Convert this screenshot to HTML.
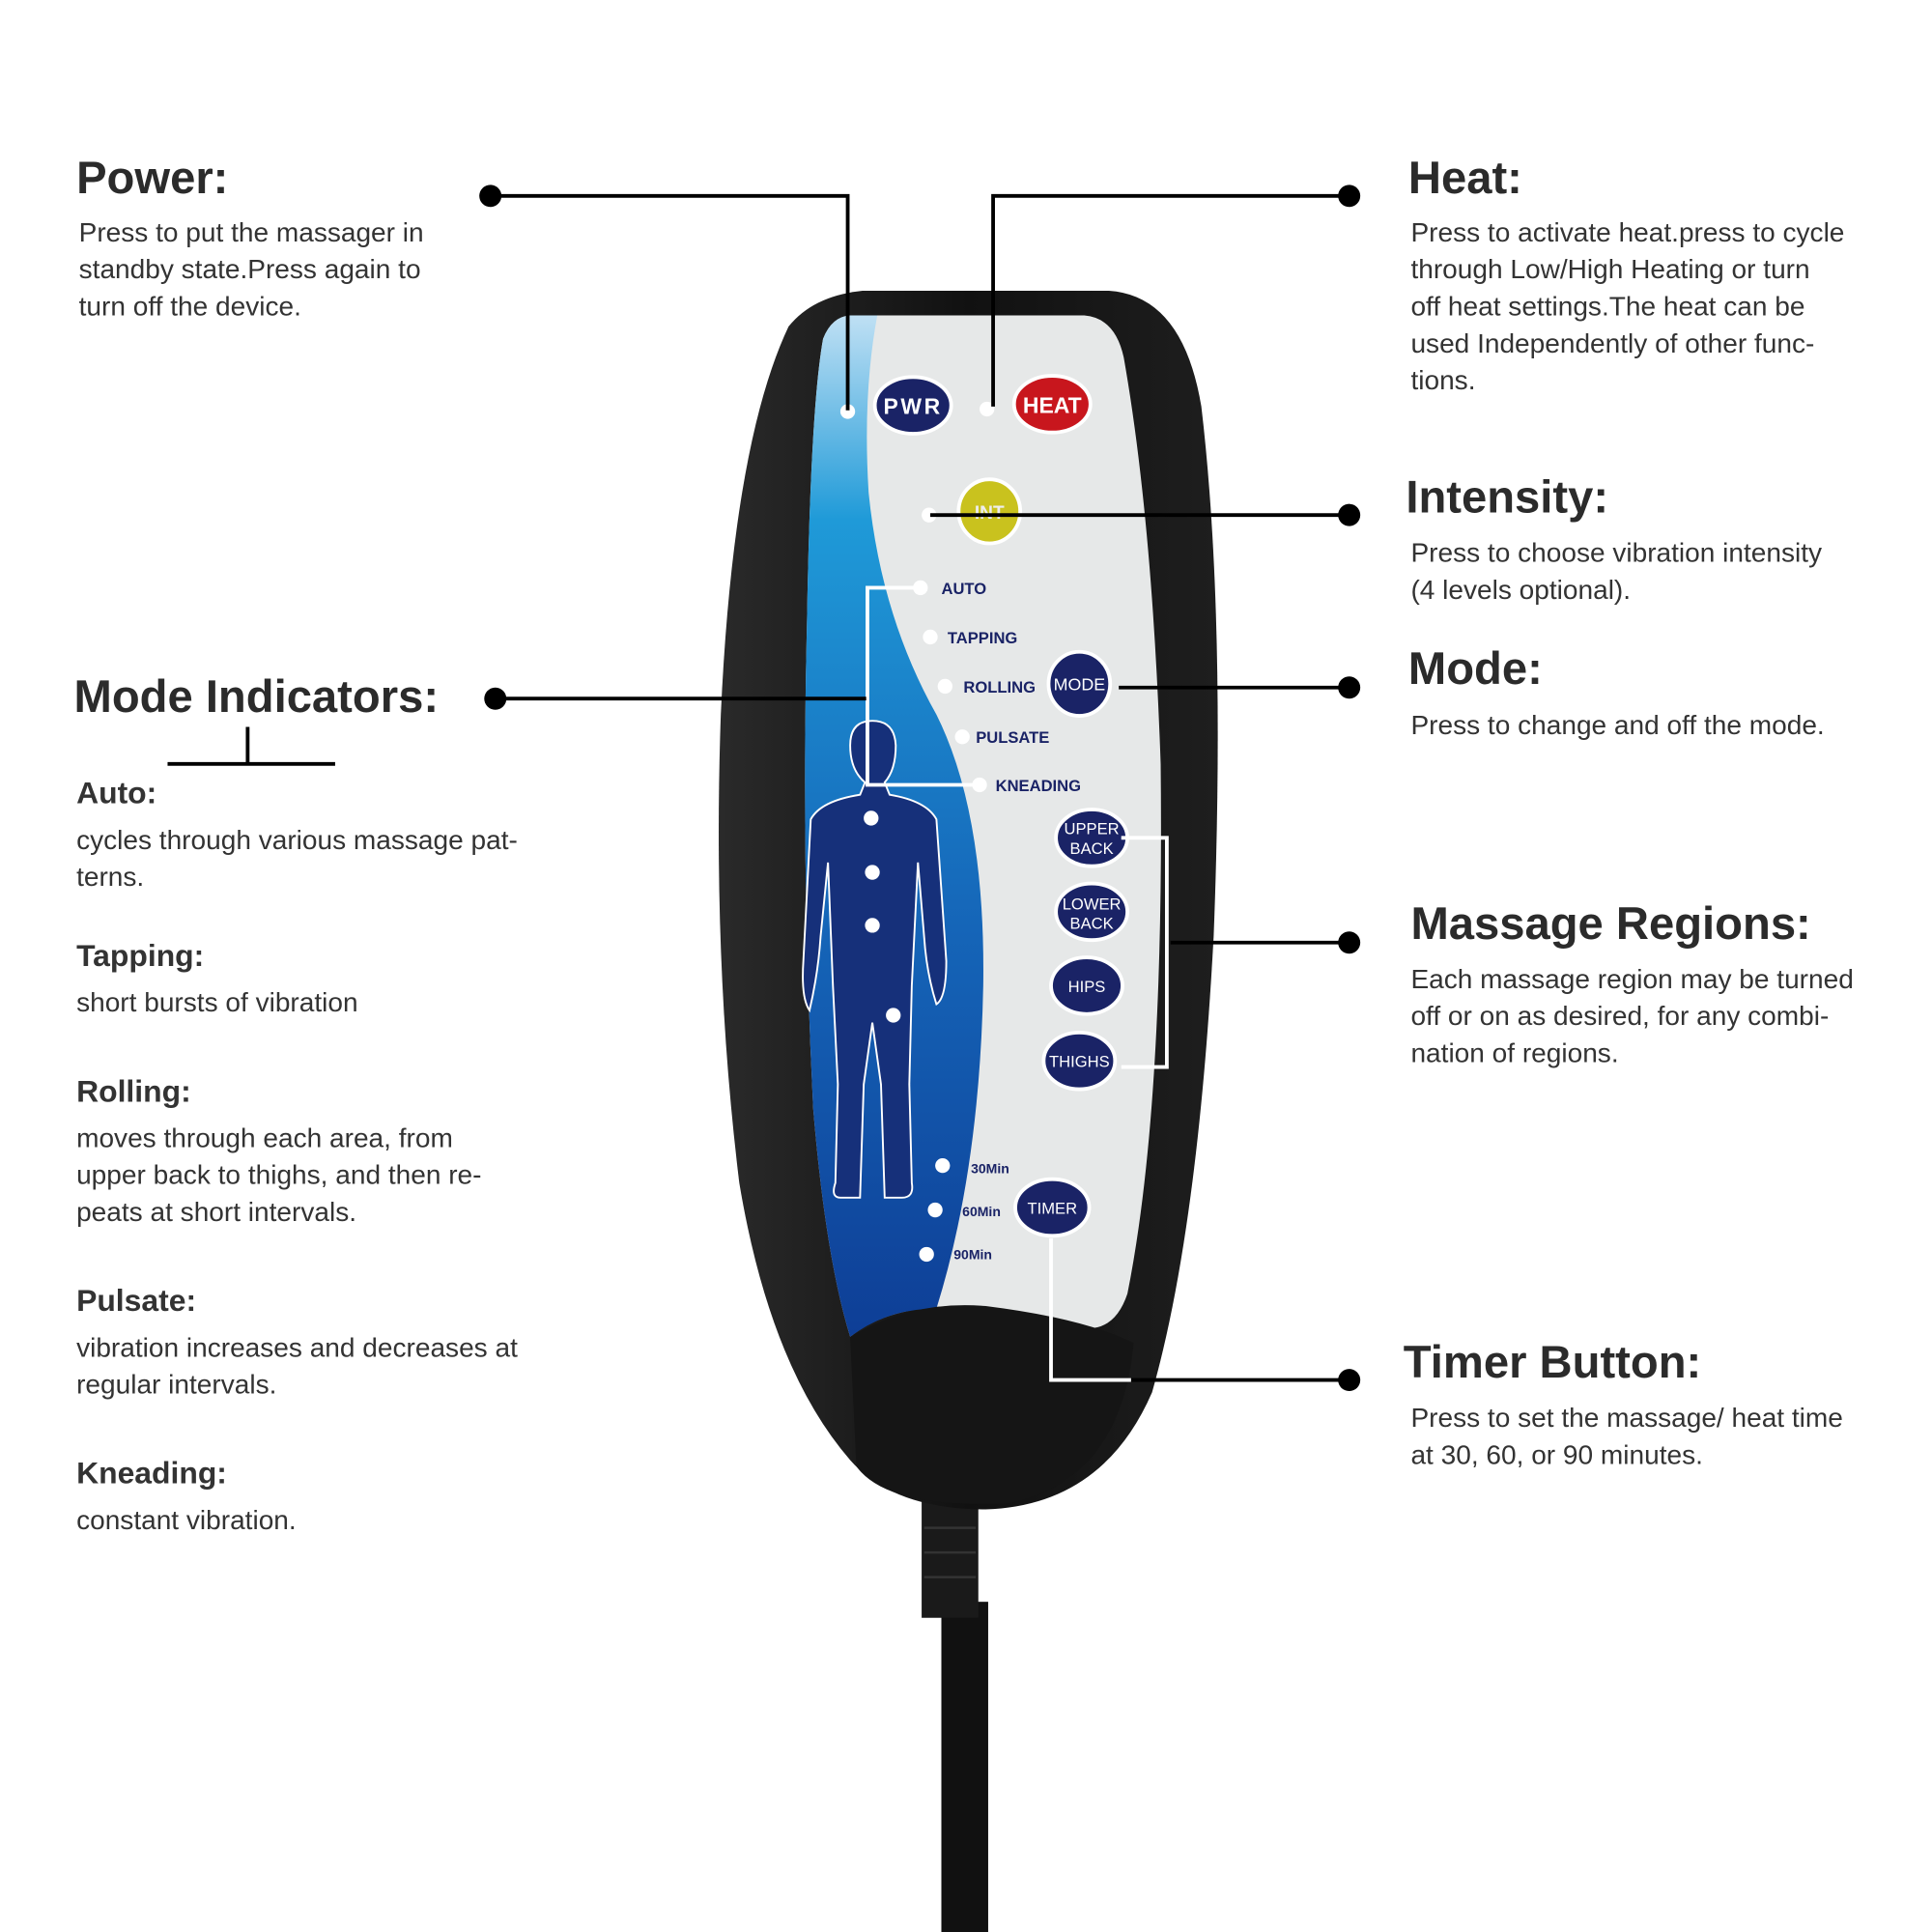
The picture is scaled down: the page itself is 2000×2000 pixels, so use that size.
<!DOCTYPE html>
<html><head><meta charset="utf-8"><style>html,body{margin:0;padding:0;background:#fff}svg{display:block}</style></head>
<body>
<svg width="2000" height="2000" viewBox="0 0 1568 1568" xmlns="http://www.w3.org/2000/svg" font-family="'Liberation Sans', sans-serif">
<defs>
<linearGradient id="bl" x1="0" y1="0" x2="0" y2="1">
<stop offset="0" stop-color="#bfe0f4"/><stop offset="0.2" stop-color="#1f9ad8"/><stop offset="0.6" stop-color="#1565b8"/><stop offset="1" stop-color="#0e3e96"/>
</linearGradient>
<linearGradient id="bk" x1="0" y1="0" x2="1" y2="0">
<stop offset="0" stop-color="#2a2a2a"/><stop offset="0.5" stop-color="#111"/><stop offset="1" stop-color="#1e1e1e"/>
</linearGradient>
</defs>
<rect x="764" y="1300" width="38" height="268" fill="#111"/>
<rect x="748" y="1215" width="46" height="98" fill="#1a1a1a"/>
<g stroke="#333" stroke-width="2"><line x1="750" y1="1240" x2="792" y2="1240"/><line x1="750" y1="1260" x2="792" y2="1260"/><line x1="750" y1="1280" x2="792" y2="1280"/></g>
<path d="M700 236 L900 236 Q960 240 975 330 Q995 500 985 760 Q972 1000 935 1130 Q895 1222 800 1225 Q725 1225 690 1185 Q625 1110 600 960 Q578 780 585 580 Q595 360 640 265 Q660 240 700 236 Z" fill="url(#bk)"/>
<path d="M690 256 L880 256 Q905 258 912 290 Q935 420 942 620 Q945 900 915 1050 Q905 1080 880 1078 L780 1060 Q720 1060 690 1085 Q670 1020 660 900 Q650 700 655 500 Q658 330 668 275 Q675 257 690 256 Z" fill="#e6e8e8"/>
<path d="M690 256 L712 256 Q700 320 705 400 Q715 500 760 580 Q800 660 798 800 Q795 950 760 1062 Q720 1062 690 1085 Q670 1020 660 900 Q650 700 655 500 Q658 330 668 275 Q675 257 690 256 Z" fill="url(#bl)"/>
<path d="M690 1085 Q740 1055 800 1060 Q880 1070 920 1090 Q910 1200 820 1220 Q720 1225 695 1190 Z" fill="#151515"/>
<g fill="#16307a" stroke="#fff" stroke-width="1.5">
<path d="M708 585 Q726 585 727 605 Q727 625 718 635 L722 645 Q752 650 760 665 L768 780 Q768 810 760 815 Q752 790 750 760 L745 700 L740 800 L738 880 L740 960 Q742 972 732 972 L718 972 L715 880 L708 830 L701 880 L698 972 L682 972 Q674 972 678 960 L680 880 L676 800 L672 700 L666 760 Q664 790 657 820 Q650 810 652 780 L658 665 Q666 650 698 645 L702 635 Q690 625 690 605 Q690 585 708 585 Z"/>
</g>
<g fill="#fff"><circle cx="707" cy="664" r="6"/><circle cx="708" cy="708" r="6"/><circle cx="708" cy="751" r="6"/><circle cx="725" cy="824" r="6"/></g>
<g fill="#fff"><circle cx="688" cy="334" r="6"/><circle cx="801" cy="332" r="6"/><circle cx="754" cy="418" r="6"/><circle cx="747" cy="477" r="6"/><circle cx="755" cy="517" r="6"/><circle cx="767" cy="557" r="6"/><circle cx="781" cy="598" r="6"/><circle cx="795" cy="637" r="6"/><circle cx="765" cy="946" r="6"/><circle cx="759" cy="982" r="6"/><circle cx="752" cy="1018" r="6"/></g>
<g fill="#1a2366" font-weight="bold" font-size="13">
<text x="764" y="482">AUTO</text><text x="769" y="522">TAPPING</text><text x="782" y="562">ROLLING</text><text x="792" y="603">PULSATE</text><text x="808" y="642">KNEADING</text>
<text x="788" y="952" font-size="11">30Min</text><text x="781" y="987" font-size="11">60Min</text><text x="774" y="1022" font-size="11">90Min</text>
</g>
<g stroke="#fff" stroke-width="3">
<ellipse cx="741" cy="329" rx="31" ry="23" fill="#1a2366"/>
<ellipse cx="854" cy="328" rx="31" ry="23" fill="#c8161d"/>
<ellipse cx="803" cy="415" rx="25" ry="26" fill="#c9c21e"/>
<ellipse cx="876" cy="555" rx="25" ry="26" fill="#1a2366"/>
<ellipse cx="886" cy="680" rx="29" ry="23" fill="#1a2366"/>
<ellipse cx="886" cy="740" rx="29" ry="23" fill="#1a2366"/>
<ellipse cx="882" cy="800" rx="29" ry="23" fill="#1a2366"/>
<ellipse cx="876" cy="861" rx="29" ry="23" fill="#1a2366"/>
<ellipse cx="854" cy="980" rx="30" ry="23" fill="#1a2366"/>
</g>
<g fill="#fff" text-anchor="middle" font-size="13">
<text x="741" y="336" font-size="18" font-weight="bold" letter-spacing="2">PWR</text>
<text x="854" y="335" font-size="18" font-weight="bold">HEAT</text>
<text x="803" y="421" font-size="15" fill="#eee" font-weight="bold">INT</text>
<text x="876" y="560" font-size="14">MODE</text>
<text x="886" y="677">UPPER</text><text x="886" y="693">BACK</text>
<text x="886" y="738">LOWER</text><text x="886" y="754">BACK</text>
<text x="882" y="805">HIPS</text><text x="876" y="866">THIGHS</text><text x="854" y="985">TIMER</text>
</g>
<g stroke="#fff" stroke-width="3" fill="none">
<path d="M745 477 H704 V637 H795"/>
<path d="M910 680 H947 V866 H910"/>
<path d="M853 1005 V1120 H918"/>
</g>
<g stroke="#000" stroke-width="3" fill="none">
<path d="M398 159 H688 V333"/>
<path d="M1095 159 H806 V330"/>
<path d="M755 418 H1095"/>
<path d="M908 558 H1095"/>
<path d="M402 567 H703"/>
<path d="M950 765 H1095"/>
<path d="M918 1120 H1095"/>
<path d="M136 620 H272 M201 590 V620"/>
</g>
<g fill="#000"><circle cx="398" cy="159" r="9"/><circle cx="1095" cy="159" r="9"/><circle cx="1095" cy="418" r="9"/><circle cx="1095" cy="558" r="9"/><circle cx="402" cy="567" r="9"/><circle cx="1095" cy="765" r="9"/><circle cx="1095" cy="1120" r="9"/></g>
<g fill="#333" font-size="22">
<text x="62" y="157" font-size="37" font-weight="bold" fill="#2b2b2b">Power:</text>
<text x="64" y="196">Press to put the massager in</text><text x="64" y="226">standby state.Press again to</text><text x="64" y="256">turn off the device.</text>
<text x="1143" y="157" font-size="37" font-weight="bold" fill="#2b2b2b">Heat:</text>
<text x="1145" y="196">Press to activate heat.press to cycle</text><text x="1145" y="226">through Low/High Heating or turn</text><text x="1145" y="256">off heat settings.The heat can be</text><text x="1145" y="286">used Independently of other func-</text><text x="1145" y="316">tions.</text>
<text x="1141" y="416" font-size="37" font-weight="bold" fill="#2b2b2b">Intensity:</text>
<text x="1145" y="456">Press to choose vibration intensity</text><text x="1145" y="486">(4 levels optional).</text>
<text x="1143" y="555" font-size="37" font-weight="bold" fill="#2b2b2b">Mode:</text>
<text x="1145" y="596">Press to change and off the mode.</text>
<text x="1145" y="762" font-size="37" font-weight="bold" fill="#2b2b2b">Massage Regions:</text>
<text x="1145" y="802">Each massage region may be turned</text><text x="1145" y="832">off or on as desired, for any combi-</text><text x="1145" y="862">nation of regions.</text>
<text x="1139" y="1118" font-size="37" font-weight="bold" fill="#2b2b2b">Timer Button:</text>
<text x="1145" y="1158">Press to set the massage/ heat time</text><text x="1145" y="1188">at 30, 60, or 90 minutes.</text>
<text x="60" y="578" font-size="37" font-weight="bold" fill="#2b2b2b">Mode Indicators:</text>
<text x="62" y="652" font-size="25" font-weight="bold">Auto:</text>
<text x="62" y="689">cycles through various massage pat-</text><text x="62" y="719">terns.</text>
<text x="62" y="784" font-size="25" font-weight="bold">Tapping:</text>
<text x="62" y="821">short bursts of vibration</text>
<text x="62" y="894" font-size="25" font-weight="bold">Rolling:</text>
<text x="62" y="931">moves through each area, from</text><text x="62" y="961">upper back to thighs, and then re-</text><text x="62" y="991">peats at short intervals.</text>
<text x="62" y="1064" font-size="25" font-weight="bold">Pulsate:</text>
<text x="62" y="1101">vibration increases and decreases at</text><text x="62" y="1131">regular intervals.</text>
<text x="62" y="1204" font-size="25" font-weight="bold">Kneading:</text>
<text x="62" y="1241">constant vibration.</text>
</g>
</svg>
</body></html>
